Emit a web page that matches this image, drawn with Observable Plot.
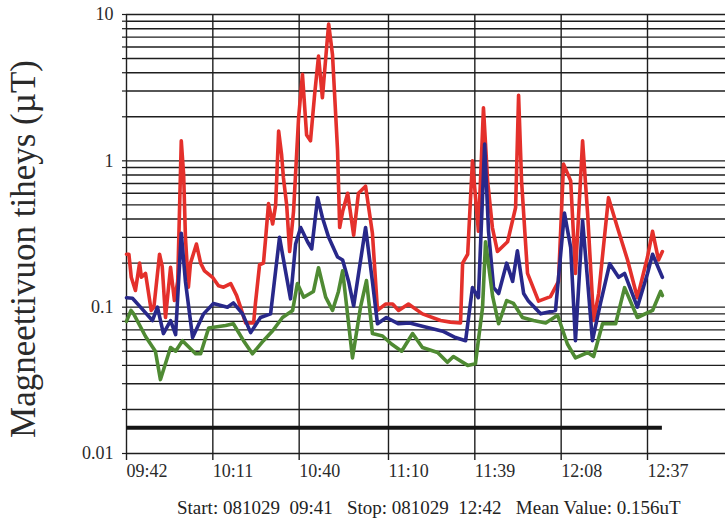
<!DOCTYPE html>
<html>
<head>
<meta charset="utf-8">
<script src="https://cdn.jsdelivr.net/npm/d3@7"></script>
<script src="https://cdn.jsdelivr.net/npm/@observablehq/plot@0.6"></script>
<style>
  html, body { margin: 0; padding: 0; background: #fff; }
  #chart { position: relative; width: 725px; height: 523px; overflow: hidden; }
  #caption {
    position: absolute; left: 177px; top: 498px;
    font: 19px "Liberation Serif", "Times New Roman", serif;
    line-height: 19px; white-space: pre; color: #222;
  }
</style>
</head>
<body>
<div id="chart"></div>
<script>
// Magnetic flux density log, 081029 09:41–12:42.
// Time is given in minutes after 09:41, values in µT.

// Red trace [minute, µT]
const red = [
  [1, 0.23], [1.8, 0.23], [2.6, 0.16], [4.0, 0.13], [5.4, 0.20], [6.0, 0.16], [7.4, 0.17],
  [9.3, 0.095], [10.2, 0.10], [12.1, 0.23], [13.0, 0.19], [14.1, 0.085], [15.8, 0.187],
  [17.1, 0.111], [18.2, 0.15], [19.4, 1.37], [20.2, 0.8], [20.8, 0.30], [21.8, 0.137],
  [22.5, 0.2], [24.5, 0.27], [25.9, 0.2], [27.2, 0.177], [29.9, 0.16], [31.9, 0.14],
  [33.6, 0.137], [36.0, 0.145], [38.0, 0.12], [39.3, 0.10], [41.0, 0.078], [43.7, 0.078],
  [44.3, 0.106], [45.7, 0.195], [47.0, 0.2], [47.7, 0.29], [48.7, 0.51], [50.1, 0.37],
  [51.1, 0.5], [52.1, 1.6], [53.1, 1.1], [53.7, 0.77], [54.8, 0.5], [55.8, 0.24], [57.1, 0.45],
  [58.8, 1.96], [60.1, 3.9], [61.5, 1.5], [62.8, 1.37], [64.2, 2.86], [65.5, 5.2], [66.8, 2.7],
  [68.2, 5.9], [68.9, 8.6], [70.2, 5.3], [71.9, 1.17], [72.6, 0.35], [73.6, 0.45], [75.3, 0.6],
  [77.3, 0.31], [78.9, 0.6], [81.3, 0.67], [83.6, 0.32], [85.3, 0.095], [88.0, 0.105],
  [90.4, 0.105], [92.4, 0.095], [95.7, 0.105], [100.4, 0.09], [106.5, 0.081], [109.8, 0.079],
  [113.2, 0.078], [113.9, 0.2], [115.6, 0.23], [117.2, 1.0], [119.2, 0.33], [120.9, 2.3],
  [122.3, 0.73], [123.9, 0.35], [125.6, 0.24], [129.0, 0.28], [131.7, 0.48], [132.7, 2.8],
  [133.7, 0.73], [135.7, 0.17], [139.4, 0.11], [143.4, 0.118], [146.1, 0.15], [147.8, 0.95],
  [150.2, 0.73], [151.8, 0.17], [154.2, 1.37], [155.9, 0.43], [157.9, 0.081], [159.6, 0.124],
  [162.9, 0.56], [165.9, 0.35], [169.3, 0.21], [172.6, 0.116], [176.0, 0.22], [177.7, 0.33],
  [179.7, 0.21], [181, 0.24]
];

// Blue trace [minute, µT]
const blue = [
  [1, 0.116], [3.0, 0.115], [5.7, 0.1], [9.7, 0.081], [11.4, 0.1], [13.4, 0.066], [15.8, 0.081],
  [17.5, 0.065], [19.4, 0.32], [20.8, 0.15], [23.2, 0.062], [26.9, 0.09], [30.2, 0.106],
  [34.9, 0.1], [36.9, 0.107], [40.0, 0.09], [42.7, 0.067], [46.0, 0.085], [49.4, 0.09],
  [52.4, 0.30], [54.4, 0.177], [56.1, 0.114], [57.8, 0.27], [59.5, 0.35], [61.8, 0.28],
  [63.2, 0.25], [65.2, 0.56], [66.8, 0.41], [68.9, 0.30], [71.9, 0.22], [73.6, 0.21],
  [75.6, 0.15], [77.3, 0.102], [81.3, 0.35], [83.6, 0.15], [85.3, 0.077], [88.3, 0.085],
  [92.4, 0.077], [96.1, 0.078], [100.4, 0.074], [107.2, 0.0685], [111.5, 0.062], [114.9, 0.059],
  [117.2, 0.136], [119.2, 0.116], [121.3, 1.3], [122.6, 0.33], [124.3, 0.136], [126.0, 0.124],
  [128.7, 0.2], [130.7, 0.15], [132.3, 0.243], [134.4, 0.124], [136.0, 0.11], [140.1, 0.09],
  [145.1, 0.095], [148.1, 0.44], [150.2, 0.255], [151.8, 0.059], [154.2, 0.39], [155.9, 0.15],
  [157.5, 0.059], [160.2, 0.106], [163.3, 0.198], [166.3, 0.16], [168.3, 0.17], [172.6, 0.1],
  [176.0, 0.17], [177.7, 0.23], [181, 0.16]
];

// Green trace [minute, µT]
const green = [
  [1, 0.08], [2.5, 0.095], [3.4, 0.09], [7.4, 0.063], [10.7, 0.05], [12.4, 0.032], [15.8, 0.053],
  [17.5, 0.05], [19.8, 0.059], [24.2, 0.048], [25.9, 0.048], [28.6, 0.072], [34.3, 0.075],
  [36.9, 0.077], [40.3, 0.059], [43.3, 0.048], [47.0, 0.059], [50.1, 0.069], [53.4, 0.085],
  [56.8, 0.095], [58.4, 0.145], [60.5, 0.117], [63.8, 0.128], [65.5, 0.186], [67.9, 0.117],
  [70.2, 0.095], [72.2, 0.128], [73.6, 0.177], [76.9, 0.045], [79.6, 0.1], [81.6, 0.152],
  [83.6, 0.066], [87.0, 0.0635], [90.0, 0.056], [93.4, 0.05], [97.1, 0.066], [100.4, 0.053],
  [105.5, 0.049], [108.8, 0.042], [110.8, 0.046], [115.6, 0.040], [118.2, 0.041], [120.6, 0.1],
  [121.6, 0.28], [124.0, 0.118], [126.0, 0.077], [128.7, 0.111], [131.0, 0.106], [134.0, 0.085],
  [137.7, 0.081], [141.8, 0.078], [145.8, 0.088], [149.1, 0.056], [151.8, 0.045], [155.9, 0.049],
  [157.9, 0.046], [160.9, 0.077], [165.3, 0.077], [168.3, 0.136], [172.6, 0.085], [177.7, 0.095],
  [180.4, 0.128], [181, 0.12]
];

// Time axis ticks (minutes after 09:41) and their labels
const tickMinutes = [1, 30, 59, 89, 118, 147, 176];
const tickLabels = ["09:42", "10:11", "10:40", "11:10", "11:39", "12:08", "12:37"];

// Decade labels on the log axis
const decadeValues = [0.01, 0.1, 1, 10];
const decadeLabels = ["0.01", "0.1", "1", "10"];

// Reference level drawn as a heavy rule across the recording
const limitValue = 0.015;

const yLabelText = "Magneettivuon tiheys (\u00B5T)";
const captionText = "Start: 081029  09:41   Stop: 081029  12:42   Mean Value: 0.156uT";

// Horizontal grid at every 1–9 multiple of each decade
const gridValues = [];
for (const dec of [0.01, 0.1, 1]) for (let k = 1; k <= 9; k++) gridValues.push(+(k * dec).toPrecision(3));
gridValues.push(10);

const toRows = arr => arr.map(([t, v]) => ({t, v}));
const start = red[0][0], stop = red[red.length - 1][0];

const ink = "#1e1e1e";
const serif = "'Liberation Serif', 'Times New Roman', serif";

const chart = Plot.plot({
  width: 725,
  height: 490,
  marginLeft: 126,
  marginRight: 0,
  marginTop: 14,
  marginBottom: 37,
  style: { fontFamily: serif, fontSize: "18px", color: "#2a2a2a", background: "#fff" },
  x: { domain: [1, 202.2], label: null },
  y: { type: "log", domain: [0.01, 10], label: null },
  marks: [
    Plot.ruleY(gridValues, { stroke: ink, strokeWidth: 1.4 }),
    Plot.ruleX(tickMinutes, { stroke: ink, strokeWidth: 1.4 }),
    Plot.axisY(gridValues, {
      tickSize: 4, tickPadding: 9, fontSize: 18, stroke: ink, strokeWidth: 1.2,
      tickFormat: d => { const i = decadeValues.indexOf(d); return i >= 0 ? decadeLabels[i] : ""; },
      label: null
    }),
    Plot.axisX(tickMinutes, {
      tickSize: 7, tickPadding: 4, fontSize: 18, textAnchor: "start", stroke: ink, strokeWidth: 1.4,
      tickFormat: d => tickLabels[tickMinutes.indexOf(d)],
      label: null
    }),
    Plot.ruleY([limitValue], { x1: start, x2: stop, stroke: "#141414", strokeWidth: 4 }),
    Plot.line(toRows(red), { x: "t", y: "v", stroke: "#e4302b", strokeWidth: 3.6 }),
    Plot.line(toRows(blue), { x: "t", y: "v", stroke: "#28288a", strokeWidth: 3.6 }),
    Plot.line(toRows(green), { x: "t", y: "v", stroke: "#4f8a33", strokeWidth: 3.6 })
  ]
});

// Vertical axis title, rotated alongside the value axis
d3.select(chart).append("text")
  .attr("transform", "translate(35,249) rotate(-90)")
  .attr("text-anchor", "middle")
  .attr("font-family", serif)
  .attr("font-size", 35)
  .attr("fill", "#2a2a2a")
  .text(yLabelText);

const root = document.getElementById("chart");
root.appendChild(chart);
const cap = document.createElement("div");
cap.id = "caption";
cap.textContent = captionText;
root.appendChild(cap);
</script>
</body>
</html>
